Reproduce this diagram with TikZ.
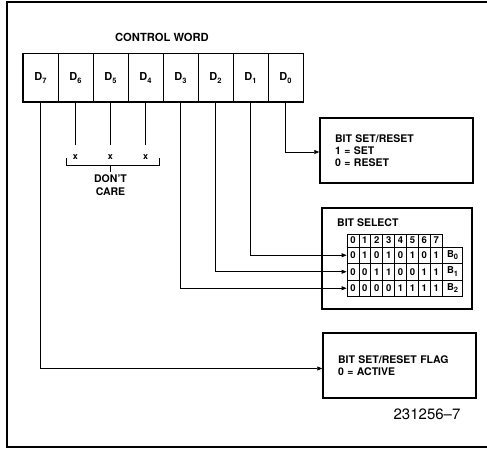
\documentclass[tikz,border=0pt]{standalone}
\usepackage{fontspec}
\setmainfont{TeX Gyre Heros}
\usetikzlibrary{arrows.meta}
\newcommand\sbx[1]{\raisebox{-0.5ex}{\fontsize{7.5}{7.5}\selectfont #1}}
\tikzset{
  frameline/.style={line width=1.2pt},
  cell/.style={draw, line width=1pt, minimum width=35pt, minimum height=48pt, inner sep=0pt,
    font=\fontsize{11}{11}\selectfont\bfseries},
  conn/.style={line width=0.8pt},
  arr/.style={conn, -{Triangle[length=5pt,width=4pt]}},
  infobox/.style={draw, line width=1.5pt, minimum height=65pt, text width=123pt, inner xsep=15pt,
    align=left, font=\fontsize{10.5}{12}\selectfont\bfseries},
  tcell/.style={draw, line width=0.8pt, minimum width=11.9pt, inner sep=0pt,
    font=\fontsize{9.5}{9.5}\selectfont\bfseries},
  lbl/.style={inner sep=0pt, font=\fontsize{10.5}{12}\selectfont\bfseries},
}
\begin{document}
\begin{tikzpicture}[x=1pt,y=-1pt]
\useasboundingbox (0,0) rectangle (487,449);
% frame
\draw[frameline] (487,2) -- (7,2) -- (7,447) -- (487,447);

% title
\node[lbl, font=\fontsize{11.2}{12}\selectfont\bfseries] (title) at (162,37) {CONTROL WORD};

% register
\foreach \b [count=\k from 0] in {7,6,5,4,3,2,1,0}
  \node[cell] (d\b) at (40.5+35*\k,78) {D\sbx{\b}};
\draw[line width=1.6pt] (d7.north west) rectangle (d0.south east);

% don't care
\foreach \b in {6,5,4} {
  \coordinate (e\b) at ([yshift=-43pt]d\b.south);
  \draw[conn] (d\b.south) -- (e\b);
  \node[lbl, font=\fontsize{9}{9}\selectfont\bfseries] (x\b) at ([yshift=-12pt]e\b) {x};
}
\coordinate (brl) at (66,158);
\coordinate (brr) at (159,158);
\coordinate (brc) at ([yshift=-7pt]brl -| d5);
\draw[conn] (brl) -- ++(0,7) -| (brr);
\draw[conn] (brc) -- ++(0,7) coordinate (brt);
\node[lbl, align=center, font=\fontsize{10.5}{13}\selectfont\bfseries, anchor=north] (dc) at ([yshift=-3pt]brt) {DON'T\\CARE};

% boxes
\node[infobox] (bsr) at (396.5,150.5) {BIT SET/RESET\\1 = SET\\0 = RESET};
\node[infobox] (flag) at (399.5,365.5) {BIT SET/RESET FLAG\\0 = ACTIVE};
\node[draw, line width=1.5pt, minimum width=150pt, minimum height=101pt] (bsel) at (397,258.5) {};
\node[lbl, anchor=west] (bseltitle) at (337,223) {BIT SELECT};

% table
\foreach \i in {0,...,7}
  \node[tcell, minimum height=13pt] (h\i) at (352.95+11.9*\i,240.5) {\i};
\foreach \row/\vals [count=\r from 0] in {0/{0,1,0,1,0,1,0,1},1/{0,0,1,1,0,0,1,1},2/{0,0,0,0,1,1,1,1}} {
  \foreach \v [count=\c from 0] in \vals
    \node[tcell, minimum height=16.5pt] (r\row c\c) at (352.95+11.9*\c,255.25+16.5*\r) {\v};
  \node[tcell, minimum height=16.5pt, minimum width=20pt, anchor=west] (b\row) at ([xshift=-0.4pt]r\row c7.east) {B\sbx{\row}};
}

% connectors
\draw[arr] (d0.south) |- ([yshift=-1.5pt]bsr.west);
\draw[arr] (d1.south) |- (r0c0.west);
\draw[arr] (d2.south) |- (r1c0.west);
\draw[arr] (d3.south) |- (r2c0.west);
\draw[arr] (d7.south) |- ([yshift=-3pt]flag.west);

% figure number
\node[inner sep=0pt, font=\fontsize{15}{15}\selectfont] (fig) at (427,414) {231256--7};
\end{tikzpicture}
\end{document}
